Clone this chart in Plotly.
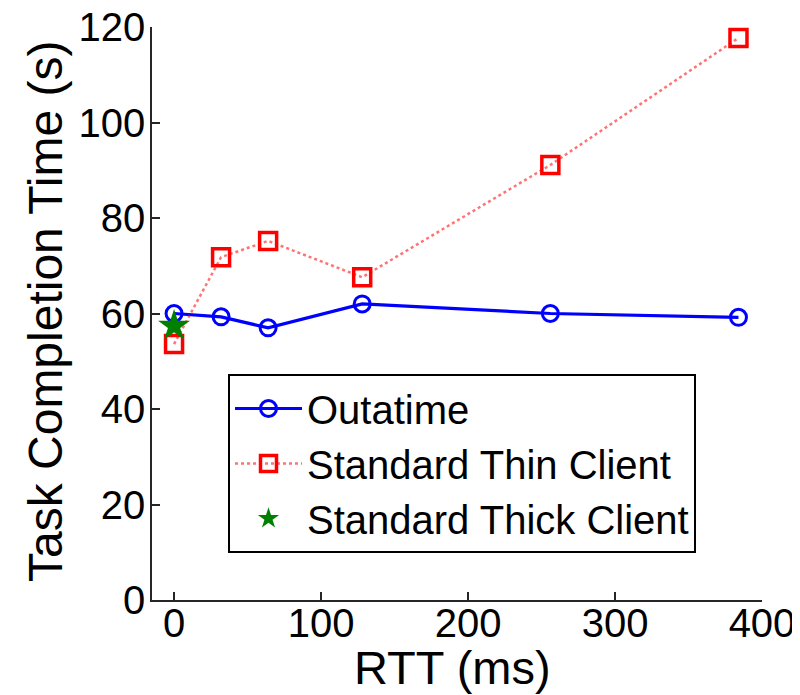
import plotly.graph_objects as go

rtt = [0, 32, 64, 128, 256, 384]
outatime = [60.0, 59.3, 57.0, 62.0, 60.0, 59.2]
thin_client = [53.6, 71.8, 75.2, 67.6, 91.1, 117.7]
thick_x = [0]
thick_client = [57.4]

x_ticks = [0, 100, 200, 300, 400]
y_ticks = [0, 20, 40, 60, 80, 100, 120]

FONT = "Liberation Sans, Arial, Helvetica, sans-serif"

# page body has an 8px default margin; figure is sized to fit the 800x695 window
FIG_W, FIG_H = 792, 687
ML, MR, MT, MB = 144, 38, 19, 95

fig = go.Figure()
fig.add_trace(go.Scatter(
    x=rtt, y=outatime, name="Outatime", mode="lines+markers",
    line=dict(color="#0000ff", width=3.2),
    marker=dict(symbol="circle-open", size=16, color="#0000ff", line=dict(width=3)),
))
fig.add_trace(go.Scatter(
    x=rtt, y=thin_client, name="Standard Thin Client", mode="lines+markers",
    line=dict(color="rgba(255,0,0,0.55)", width=2.5, dash="dot"),
    marker=dict(symbol="square-open", size=17, color="#ff0000", line=dict(width=3.5)),
))
fig.add_trace(go.Scatter(
    x=thick_x, y=thick_client, name="Standard Thick Client", mode="markers",
    marker=dict(symbol="star", size=24, color="#008000", line=dict(width=0)),
))

axis_common = dict(
    showline=True, linecolor="#262626", linewidth=1.5,
    ticks="inside", ticklen=8, tickwidth=1.5, tickcolor="#262626",
    showgrid=False, zeroline=False, mirror=False, automargin=False,
    ticklabeloverflow="allow",
    tickfont=dict(family=FONT, size=40, color="black"),
)

plot_w = FIG_W - ML - MR
plot_h = FIG_H - MT - MB
# page-pixel positions of the plot area
PX0, PY0 = 8 + ML, 8 + MT
PY1 = PY0 + plot_h


def px_x(px):
    return (px - PX0) / plot_w


def px_y(py):
    return (PY1 - py) / plot_h


fig.update_layout(
    width=FIG_W, height=FIG_H,
    paper_bgcolor="white", plot_bgcolor="white",
    margin=dict(l=ML, r=MR, t=MT, b=MB, autoexpand=False),
    font=dict(family=FONT, color="black"),
    xaxis=dict(range=[-15, 400], tickvals=x_ticks, ticklabelstandoff=-13, **axis_common),
    yaxis=dict(range=[0, 120], tickvals=y_ticks, ticklabelstandoff=-3, **axis_common),
    legend=dict(
        x=px_x(228), y=px_y(374), xanchor="left", yanchor="top",
        bgcolor="white", bordercolor="black", borderwidth=2,
        font=dict(family=FONT, size=40, color="black"),
        itemsizing="trace", itemwidth=67, tracegroupgap=0,
    ),
    showlegend=True,
    annotations=[
        dict(text="RTT (ms)", x=px_x(452), y=px_y(667), xref="paper", yref="paper",
             showarrow=False, font=dict(family=FONT, size=47, color="black"),
             xanchor="center", yanchor="middle"),
        dict(text="Task Completion Time (s)", x=px_x(45), y=px_y(312),
             xref="paper", yref="paper", showarrow=False, textangle=-90,
             font=dict(family=FONT, size=48, color="black"),
             xanchor="center", yanchor="middle"),
    ],
)

fig.write_html("out.html")
